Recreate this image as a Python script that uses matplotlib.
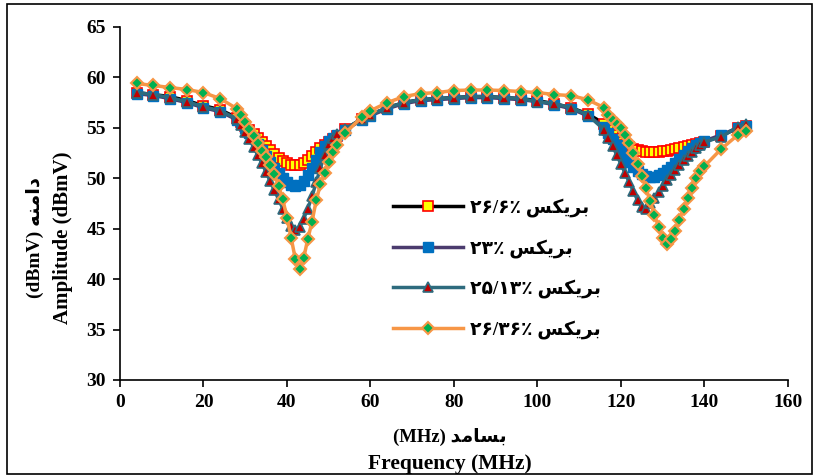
import matplotlib
matplotlib.use('Agg')
import matplotlib.pyplot as plt
from matplotlib.patches import Rectangle

plt.rcParams['font.family'] = ['Liberation Serif', 'DejaVu Sans']
plt.rcParams['font.weight'] = 'bold'

# frequency samples (MHz), shared by all four curves
freq = [4, 8, 12, 16, 20, 24, 28,
        29, 30, 31, 32, 33, 34, 35, 36, 37, 38, 39, 40, 41, 42, 43, 44,
        45, 46, 47, 48, 49, 50, 51, 52,
        54, 58, 60, 64, 68, 72, 76, 80, 84, 88, 92, 96, 100, 104, 108, 112, 116,
        117, 118, 119, 120, 121, 122, 123, 124, 125, 126, 127, 128, 129, 130,
        131, 132, 133, 134, 135, 136, 137, 138, 139, 140,
        144, 148, 150]

brix_26_6 = [58.5, 58.3, 58.1, 57.7, 57.2, 56.8, 56.0,
             55.6, 55.2, 54.8, 54.4, 54.0, 53.6, 53.2, 52.8, 52.4, 52.0, 51.7, 51.5,
             51.3, 51.3, 51.3, 51.5, 51.8, 52.2, 52.6, 53.0, 53.3, 53.6, 53.9, 54.2,
             54.9, 55.9, 56.3, 57.0, 57.5, 57.8, 57.9, 58.0, 58.1, 58.1, 58.0, 57.9,
             57.7, 57.4, 57.0, 56.4, 55.4,
             54.8, 54.3, 53.9, 53.6, 53.3, 53.1, 52.9, 52.8, 52.7, 52.6, 52.6, 52.6,
             52.6, 52.7, 52.7, 52.8, 52.9, 53.0, 53.1, 53.2, 53.3, 53.4, 53.5, 53.6,
             54.2, 55.0, 55.2]

brix_23 = [58.4, 58.2, 57.9, 57.5, 57.0, 56.6, 55.8,
           55.5, 55.0, 54.5, 54.0, 53.4, 52.8, 52.2, 51.6, 51.0, 50.5, 50.0, 49.6,
           49.3, 49.2, 49.3, 49.7, 50.3, 51.0, 51.8, 52.6, 53.2, 53.7, 54.0, 54.3,
           54.8, 55.8, 56.2, 56.9, 57.4, 57.7, 57.8, 57.9, 58.0, 58.0, 57.9, 57.8,
           57.6, 57.3, 56.9, 56.2, 55.1,
           54.5, 53.9, 53.3, 52.7, 52.1, 51.6, 51.1, 50.7, 50.4, 50.2, 50.1, 50.1,
           50.3, 50.5, 50.8, 51.1, 51.5, 51.9, 52.3, 52.7, 53.0, 53.3, 53.5, 53.7,
           54.3, 55.0, 55.2]

brix_25_13 = [58.5, 58.3, 58.0, 57.6, 57.1, 56.7, 55.9,
              55.3, 54.6, 53.9, 53.1, 52.3, 51.5, 50.6, 49.7, 48.8, 47.9, 47.0, 46.1,
              45.3, 44.9, 45.2, 46.0, 47.0, 48.2, 49.6, 51.0, 52.3, 53.4, 54.0, 54.4,
              54.9, 55.9, 56.3, 57.0, 57.5, 57.8, 57.9, 58.0, 58.1, 58.1, 58.0, 57.9,
              57.6, 57.4, 57.0, 56.3, 54.8,
              54.0, 53.2, 52.3, 51.4, 50.5, 49.6, 48.7, 47.8, 47.2, 47.0, 47.5, 48.0,
              48.6, 49.2, 49.8, 50.3, 50.8, 51.3, 51.8, 52.2, 52.6, 53.0, 53.3, 53.6,
              54.1, 55.1, 55.4]

brix_26_36 = [59.4, 59.2, 59.0, 58.8, 58.5, 57.9, 56.9,
              56.3, 55.6, 54.9, 54.2, 53.5, 52.7, 52.1, 51.3, 50.4, 49.2, 47.9, 46.1,
              44.1, 42.0, 41.0, 42.1, 44.0, 45.7, 47.8, 49.4, 50.5, 51.6, 52.6, 53.3,
              54.5, 56.1, 56.7, 57.5, 58.1, 58.4, 58.5, 58.7, 58.75, 58.75, 58.7, 58.6,
              58.5, 58.3, 58.2, 57.8, 57.0,
              56.3, 55.8, 55.4, 55.0, 54.3, 53.5, 52.5, 51.4, 50.2, 49.0, 47.7, 46.4,
              45.2, 44.1, 43.5, 44.0, 44.8, 45.9, 47.0, 48.0, 49.0, 50.0, 50.7, 51.2,
              52.9, 54.3, 54.7]

# Persian text written in visual order with presentation forms
word_brix = '\uFEB2\uFB91\uFBFE\uFEAE\uFE91'
labels = ['۲۶/۶٪ ' + word_brix,
          '۲۳٪ ' + word_brix,
          '۲۵/۱۳٪ ' + word_brix,
          '۲۶/۳۶٪ ' + word_brix]
x_fa = '(MHz) ' + '\uFEAA\uFEE3\uFE8E\uFEB4\uFE91'
y_fa = '(dBmV) ' + '\uFEEA\uFEE8\uFEE3\uFE8D\uFEA9'

fig = plt.figure(figsize=(8.14, 4.76), dpi=100)
ax = fig.add_axes([0.1474, 0.2017, 0.8206, 0.7416])

ax.plot(freq, brix_26_6, color='black', lw=2.5, marker='s', ms=6.5,
        mfc='#FFFF00', mec='#FF0000', mew=1.2, label=labels[0])
ax.plot(freq, brix_23, color='#4B3B6E', lw=2.5, marker='s', ms=6.5,
        mfc='#0070C0', mec='#0070C0', mew=1, label=labels[1])
ax.plot(freq, brix_25_13, color='#2E6B7E', lw=2.5, marker='^', ms=7.5,
        mfc='#C00000', mec='#2E6B7E', mew=1.2, label=labels[2])
ax.plot(freq, brix_26_36, color='#F79646', lw=2.5, marker='D', ms=6,
        mfc='#00B050', mec='#F79646', mew=1.5, label=labels[3])

ax.set_xlim(0, 160)
ax.set_ylim(30, 65)
ax.set_xticks(range(0, 161, 20))
ax.set_yticks(range(30, 66, 5))
ax.tick_params(direction='out', length=5, width=1.2, labelsize=14, pad=5)
for lab in ax.get_xticklabels() + ax.get_yticklabels():
    lab.set_fontweight('bold')
ax.spines['top'].set_visible(False)
ax.spines['right'].set_visible(False)
ax.spines['left'].set_linewidth(1.2)
ax.spines['bottom'].set_linewidth(1.2)

leg = ax.legend(loc='upper left', bbox_to_anchor=(0.409, 0.515), frameon=False,
                fontsize=13.5, handlelength=3.7, handletextpad=0.4,
                labelspacing=1.15, borderaxespad=0, borderpad=0)

fig.text(0.553, 0.082, x_fa, ha='center', va='center', fontsize=13.5, fontweight='bold')
fig.text(0.553, 0.025, 'Frequency (MHz)', ha='center', va='center', fontsize=15.5,
         fontweight='bold')
fig.text(0.043, 0.50, y_fa, ha='center', va='center', rotation=90, fontsize=14,
         fontweight='bold')
fig.text(0.077, 0.50, 'Amplitude (dBmV)', ha='center', va='center', rotation=90,
         fontsize=15, fontweight='bold')

fig.patches.append(Rectangle((0.009, 0.004), 0.988, 0.988, transform=fig.transFigure,
                             fill=False, edgecolor='black', lw=1.2))

fig.savefig('out.png', dpi=100)
